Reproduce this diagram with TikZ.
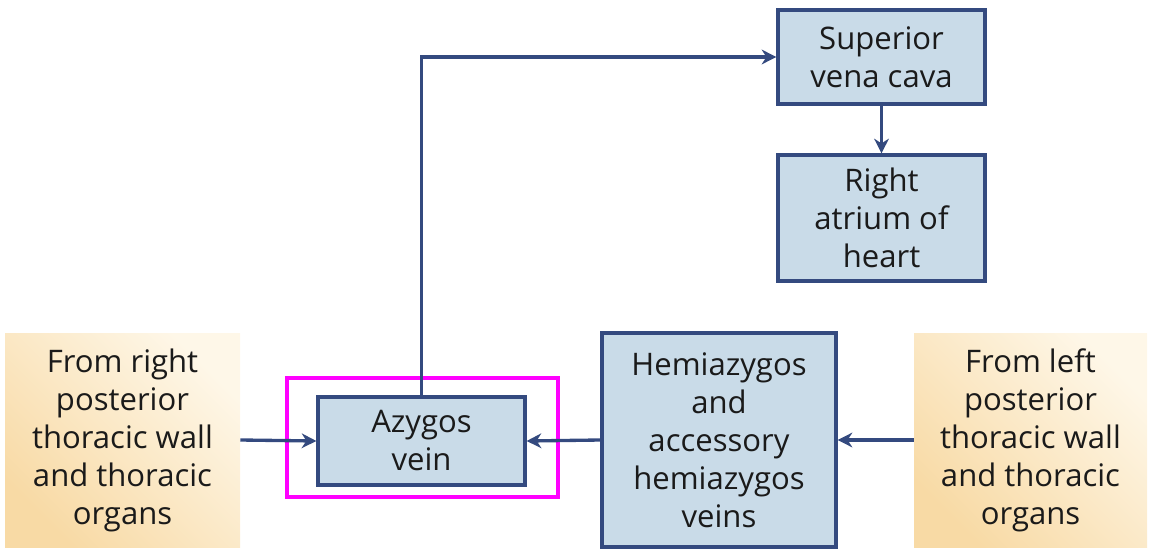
\documentclass[tikz,border=0pt]{standalone}
\usepackage{fontspec}
\setmainfont{Open Sans}
\usetikzlibrary{arrows.meta,shadows}
\definecolor{veinblue}{RGB}{52,74,127}
\definecolor{veinfill}{RGB}{201,219,232}
\definecolor{sandlight}{RGB}{254,247,232}
\definecolor{sanddark}{RGB}{248,218,165}
\definecolor{inktext}{RGB}{26,26,26}
\definecolor{focuspink}{RGB}{255,0,255}

\begin{document}
\begin{tikzpicture}[x=0.75pt, y=-0.75pt,
		vein/.style={draw=veinblue, line width=2.4pt, fill=veinfill, align=center, inner sep=0pt, text=inktext, font=\fontsize{23.3}{28.5}\selectfont},
		source/.style={shading=axis, top color=sandlight, bottom color=sanddark, shading angle=-45, align=center, inner sep=0pt, text=inktext, font=\fontsize{23.3}{28.5}\selectfont},
		flow/.style={draw=veinblue, line width=2.5pt, -{Stealth[length=11pt, width=11pt, inset=3.5pt]}}]
			\useasboundingbox (0,0) rectangle (1149,552);
			\node[draw=focuspink, line width=3pt, fill=white, minimum width=203.25pt, minimum height=89.25pt, drop shadow={opacity=0.25, shadow xshift=1.5pt, shadow yshift=-1.5pt}] (focus) at (422.5,437.5) {};
			\node[source, minimum width=176.25pt, minimum height=160.5pt] (rightsrc) at (122.5,440) {From right\\posterior\\thoracic wall\\and thoracic\\organs};
			\node[vein, minimum width=155.25pt, minimum height=66pt] (azygos) at (421.5,441) {Azygos\\vein};
			\node[vein, minimum width=175.5pt, minimum height=160.5pt] (hemi) at (719,440) {Hemiazygos\\and\\accessory\\hemiazygos\\veins};
			\node[source, minimum width=174.75pt, minimum height=160.5pt] (leftsrc) at (1030.5,440) {From left\\posterior\\thoracic wall\\and thoracic\\organs};
			\node[vein, minimum width=155.25pt, minimum height=70.5pt] (svc) at (881.5,57) {Superior\\vena cava};
			\node[vein, minimum width=155.25pt, minimum height=94.5pt] (ratrium) at (881.5,218) {Right\\atrium of\\heart};
			\draw[flow] (rightsrc.east) -- (azygos.west);
			\draw[flow] (hemi.west) -- (azygos.east);
			\draw[flow] (leftsrc.west) -- (hemi.east);
			\draw[flow] (azygos.north) |- (svc.west);
			\draw[flow] (svc.south) -- (ratrium.north);
		\end{tikzpicture}
\end{document}
